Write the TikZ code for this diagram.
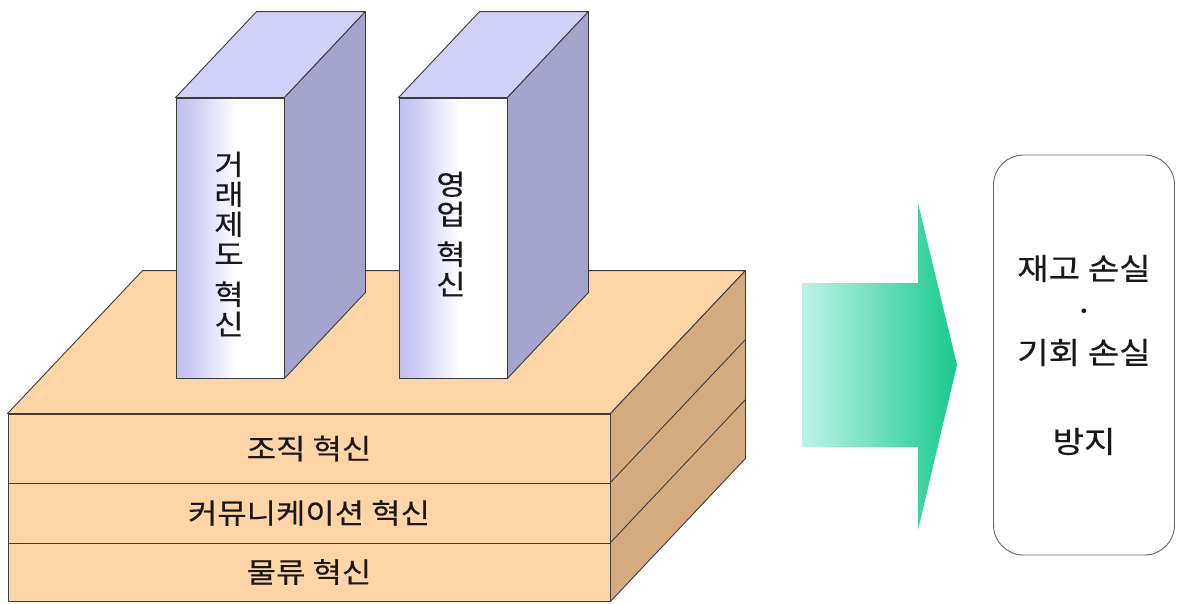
\documentclass[tikz,border=0pt]{standalone}
\usepackage{fontspec}
\setmainfont{Noto Sans CJK KR}
\newfontfamily\krwide[FakeStretch=1.14, FakeBold=0.4]{Noto Sans CJK KR}
\usetikzlibrary{calc}
\definecolor{slabfront}{RGB}{255,212,166}
\definecolor{slabside}{RGB}{213,170,126}
\definecolor{pilside}{RGB}{163,163,204}
\definecolor{piltop}{RGB}{208,208,248}
\definecolor{pillav}{RGB}{192,192,242}
\definecolor{edge}{RGB}{60,60,60}
\definecolor{txt}{RGB}{25,25,25}
\definecolor{arrL}{RGB}{190,243,232}
\definecolor{arrR}{RGB}{24,201,142}
\pgfdeclarehorizontalshading{pilshade}{100bp}{color(0bp)=(pillav); color(25bp)=(pillav); color(33bp)=(pillav!80!white); color(53bp)=(white); color(100bp)=(white)}
\tikzset{
  outl/.style={draw=edge, line width=0.9pt, line join=round},
  layer/.style={outl, fill=slabfront, minimum width=602, minimum height=#1, inner sep=0pt, text=txt, font=\krwide\fontsize{28}{30}\selectfont},
  pilfront/.style={outl, shading=pilshade, minimum width=108, minimum height=280, inner sep=0pt},
  ptext/.style={align=center, text=txt, font=\krwide\fontsize{28}{30}\selectfont, inner sep=0pt},
  resbox/.style={draw=edge!80, line width=0.9pt, rounded corners=30, minimum width=181, minimum height=400, align=center, text=txt, font=\krwide\fontsize{30}{42}\selectfont}
}
\begin{document}
\begin{tikzpicture}[x=1pt,y=-1pt]
\useasboundingbox (0,0) rectangle (1183,603);
% slab layers (front faces)
\node[layer=69] (l1) at (309,448.5) {조직 혁신};
\node[layer=60] (l2) at (309,513) {커뮤니케이션 혁신};
\node[layer=58] (l3) at (309,572) {물류 혁신};
% slab top and right faces
\coordinate (d) at (135,-143);
\filldraw[outl, fill=slabfront] (l1.north west) -- ($(l1.north west)+(d)$) -- ($(l1.north east)+(d)$) -- (l1.north east) -- cycle;
\filldraw[outl, fill=slabside] (l1.north east) -- ($(l1.north east)+(d)$) -- ($(l3.south east)+(d)$) -- (l3.south east) -- cycle;
\draw[outl] (l2.north east) -- ($(l2.north east)+(d)$);
\draw[outl] (l3.north east) -- ($(l3.north east)+(d)$);
% pillars
\coordinate (e) at (81,-86);
\node[pilfront] (p1) at (230,238) {};
\node[pilfront] (p2) at (453,238) {};
\foreach \p in {p1,p2}{
  \filldraw[outl, fill=piltop] (\p.north west) -- ($(\p.north west)+(e)$) -- ($(\p.north east)+(e)$) -- (\p.north east) -- cycle;
  \filldraw[outl, fill=pilside] (\p.north east) -- ($(\p.north east)+(e)$) -- ($(\p.south east)+(e)$) -- (\p.south east) -- cycle;
}
\node[ptext] (t1) at (229,244) {거\\래\\제\\도\\[10pt]혁\\신};
\node[ptext] (t2) at (451,234) {영\\업\\[10pt]혁\\신};
% arrow
\shade[left color=arrL, right color=arrR] (802,283) -- (918,283) -- (918,203) -- (957,365) -- (918,530) -- (918,447) -- (802,447) -- cycle;
% result box
\node[resbox] (box) at (1084,355) {재고 손실\\·\\기회 손실\\[47pt]방지};
\end{tikzpicture}
\end{document}
